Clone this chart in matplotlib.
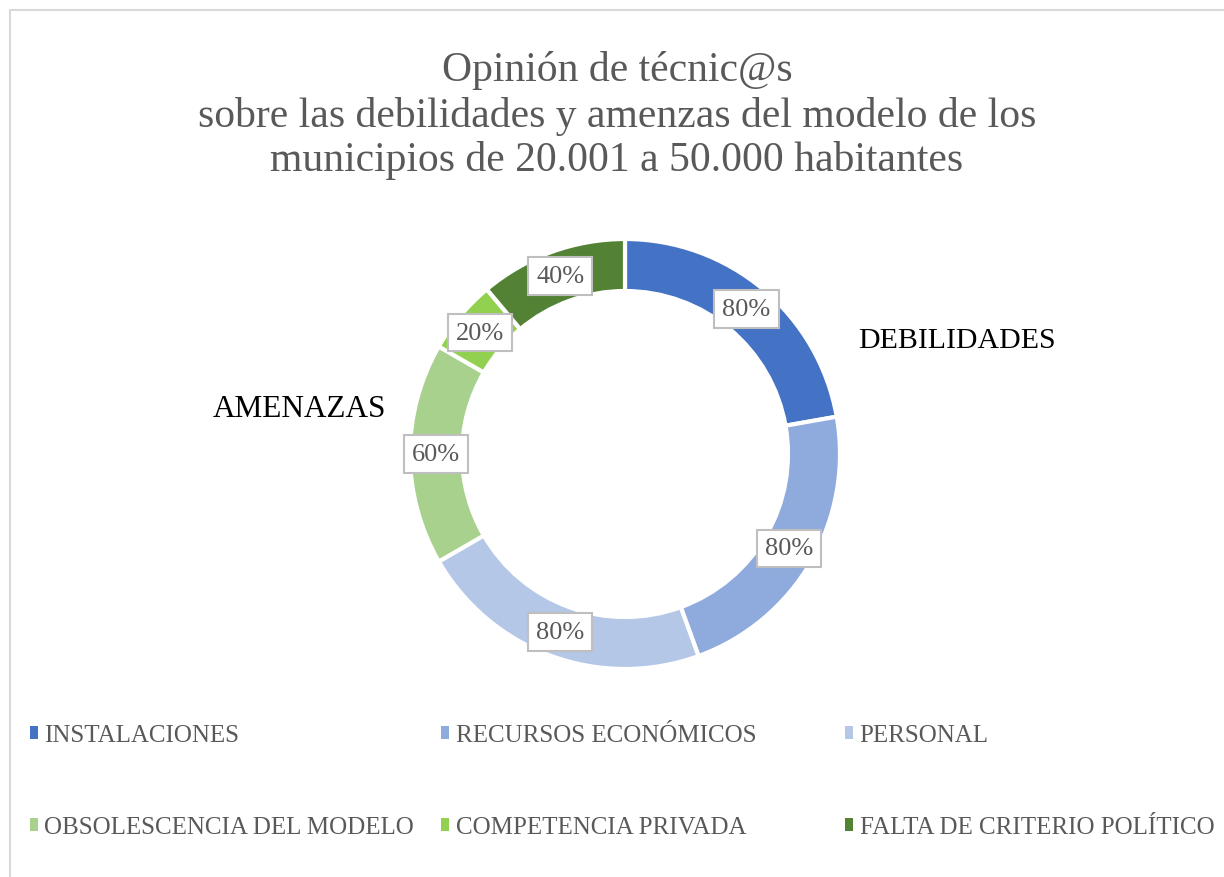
import matplotlib
matplotlib.use("Agg")
import matplotlib.pyplot as plt
from matplotlib.patches import Patch, Rectangle
import numpy as np

categories = ["INSTALACIONES", "RECURSOS ECONÓMICOS", "PERSONAL",
              "OBSOLESCENCIA DEL MODELO", "COMPETENCIA PRIVADA",
              "FALTA DE CRITERIO POLÍTICO"]
values = [80, 80, 80, 60, 20, 40]
colors = ["#4472C4", "#8FAADC", "#B4C7E7", "#A9D18E", "#92D050", "#548235"]
title_lines = ["Opinión de técnic@s",
               "sobre las debilidades y amenzas del modelo de los",
               "municipios de 20.001 a 50.000 habitantes"]

FONT = "Liberation Serif"
GREY = "#595959"
W, H = 1224, 878
fig = plt.figure(figsize=(W / 100, H / 100), dpi=100)
fig.patch.set_facecolor("white")

# chart border (left and top visible)
fig.add_artist(Rectangle((10 / W, -0.1), 1.2, 1 - 11 / H + 0.1,
                         transform=fig.transFigure, fill=False,
                         edgecolor="#D9D9D9", linewidth=1.5))

# title
for line, yc in zip(title_lines, [71, 116, 161]):
    fig.text(617 / W, 1 - yc / H, line, ha="center", va="center",
             fontsize=30, color=GREY, family=FONT)

# donut
cx, cy, R = 625, 455, 215
ax = fig.add_axes([(cx - R) / W, (H - cy - R) / H, 2 * R / W, 2 * R / H])
wedges, _ = ax.pie(values, colors=colors, startangle=90, counterclock=False,
                   radius=1.0, wedgeprops=dict(width=52 / 215, edgecolor="white",
                                               linewidth=3))
ax.set_xlim(-1, 1)
ax.set_ylim(-1, 1)
ax.set_aspect("equal")
ax.axis("off")

rmid = 1 - 26 / 215
for w, v in zip(wedges, values):
    ang = np.deg2rad((w.theta1 + w.theta2) / 2)
    ax.text(rmid * np.cos(ang), rmid * np.sin(ang), f"{v}%", ha="center",
            va="center", fontsize=19, color=GREY, family=FONT,
            bbox=dict(boxstyle="square,pad=0.3", facecolor="white",
                      edgecolor="#BFBFBF", linewidth=1.5))

fig.text(858 / W, 1 - 341 / H, "DEBILIDADES", ha="left", va="center",
         fontsize=21.5, color="black", family=FONT)
fig.text(386 / W, 1 - 410 / H, "AMENAZAS", ha="right", va="center",
         fontsize=22.5, color="black", family=FONT)

# legend: three columns of two rows
cols = [(0, 3), (1, 4), (2, 5)]
xs = [17, 428, 832]
for (a, b), x in zip(cols, xs):
    handles = [Patch(facecolor=colors[a]), Patch(facecolor=colors[b])]
    leg = fig.legend(handles, [categories[a], categories[b]],
                     loc="upper left", bbox_to_anchor=(x / W, 1 - 713 / H),
                     frameon=False, handlelength=0.35, handleheight=0.45,
                     handletextpad=0.25, labelspacing=2.8, borderpad=0,
                     prop=dict(family=FONT, size=18))
    for t in leg.get_texts():
        t.set_color(GREY)

fig.savefig("out.png", dpi=100)
